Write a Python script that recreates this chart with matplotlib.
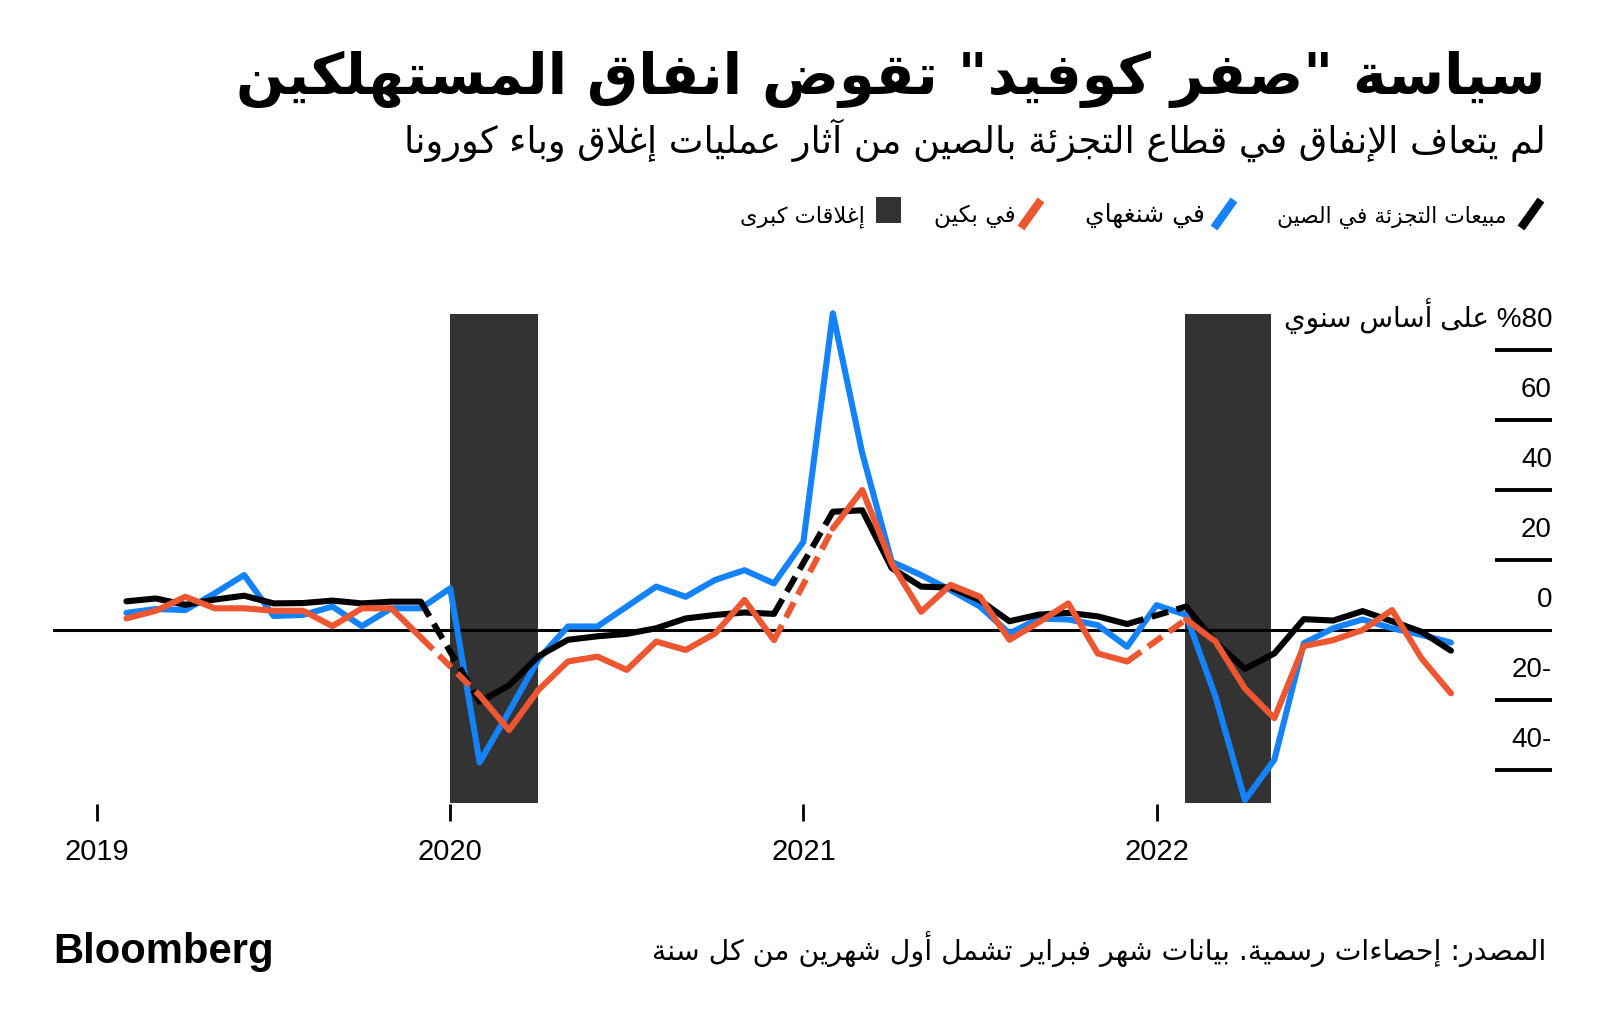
import re
import numpy as np
import pandas as pd
import matplotlib
matplotlib.use('Agg')
import matplotlib.pyplot as plt
from matplotlib.lines import Line2D
from matplotlib.patches import Rectangle

# ---------------- data ----------------
dates = pd.date_range('2019-01-01', '2022-11-01', freq='MS')
china = [np.nan, 8.2, 9.0, 7.2, 8.7, 9.8, 7.6, 7.7, 8.4, 7.6, 8.1, 8.1,
         np.nan, -20.5, -15.8, -7.5, -2.8, -1.8, -1.1, 0.5, 3.3, 4.3, 5.0, 4.6,
         np.nan, 33.8, 34.2, 17.7, 12.4, 12.1, 8.5, 2.5, 4.4, 4.9, 3.9, 1.7,
         np.nan, 6.7, -3.5, -11.1, -6.7, 3.1, 2.7, 5.4, 2.5, -0.5, -5.9]
shanghai = [np.nan, 4.9, 6.0, 5.7, 10.5, 15.7, 4.0, 4.3, 6.7, 1.1, 6.2, 6.2,
            11.9, -37.8, -23.3, -8.3, 1.0, 1.0, 6.7, 12.4, 9.5, 14.3, 17.1, 13.3,
            25.2, 90.5, 50.5, 19.5, 15.7, 11.4, 6.7, -1.0, 3.3, 3.0, 1.4, -4.8,
            7.1, 4.3, -19.0, -48.6, -37.1, -3.8, 0.5, 3.0, 0.5, -1.4, -3.6]
beijing = [np.nan, 3.3, 5.5, 9.5, 6.2, 6.2, 5.5, 5.5, 1.1, 6.2, 6.2, -2.1,
           np.nan, -18.7, -28.6, -17.1, -9.0, -7.6, -11.4, -3.3, -5.7, -1.0, 8.6, -2.9,
           np.nan, 29.0, 40.0, 19.0, 5.2, 12.9, 9.5, -2.8, 2.2, 7.6, -6.7, -9.0,
           np.nan, 3.0, -3.3, -16.7, -25.2, -4.6, -2.9, 0.0, 5.7, -8.1, -18.1]
lockdown_start = [2020.0, 2022.08]
lockdown_end = [2020.25, 2022.325]
lockdown_low, lockdown_high = -49.5, 90.3
year_ticks = [2019, 2020, 2021, 2022]
year_labels = ['2019', '2020', '2021', '2022']
y_values = [80, 60, 40, 20, 0, -20, -40]
y_labels = ['%80 على أساس سنوي', '60', '40', '20', '0', '20-', '40-']

title = 'سياسة "صفر كوفيد" تقوض انفاق المستهلكين'
subtitle = 'لم يتعاف الإنفاق في قطاع التجزئة بالصين من آثار عمليات إغلاق وباء كورونا'
legend_labels = ['مبيعات التجزئة في الصين', 'في شنغهاي', 'في بكين', 'إغلاقات كبرى']
source = 'المصدر: إحصاءات رسمية. بيانات شهر فبراير تشمل أول شهرين من كل سنة'

BLACK = '#000000'
BLUE = '#1482fa'
ORANGE = '#ec5732'
BOX = '#333333'

# ---------------- minimal Arabic shaping for display ----------------
_FORMS = {
    'ء': (0xFE80, 0), 'آ': (0xFE81, 1), 'أ': (0xFE83, 1), 'ؤ': (0xFE85, 1),
    'إ': (0xFE87, 1), 'ئ': (0xFE89, 2), 'ا': (0xFE8D, 1), 'ب': (0xFE8F, 2),
    'ة': (0xFE93, 1), 'ت': (0xFE95, 2), 'ث': (0xFE99, 2), 'ج': (0xFE9D, 2),
    'ح': (0xFEA1, 2), 'خ': (0xFEA5, 2), 'د': (0xFEA9, 1), 'ذ': (0xFEAB, 1),
    'ر': (0xFEAD, 1), 'ز': (0xFEAF, 1), 'س': (0xFEB1, 2), 'ش': (0xFEB5, 2),
    'ص': (0xFEB9, 2), 'ض': (0xFEBD, 2), 'ط': (0xFEC1, 2), 'ظ': (0xFEC5, 2),
    'ع': (0xFEC9, 2), 'غ': (0xFECD, 2), 'ف': (0xFED1, 2), 'ق': (0xFED5, 2),
    'ك': (0xFED9, 2), 'ل': (0xFEDD, 2), 'م': (0xFEE1, 2), 'ن': (0xFEE5, 2),
    'ه': (0xFEE9, 2), 'و': (0xFEED, 1), 'ى': (0xFEEF, 1), 'ي': (0xFEF1, 2),
}
_LAMALEF = {'آ': 0xFEF5, 'أ': 0xFEF7, 'إ': 0xFEF9, 'ا': 0xFEFB}


def _shape(s):
    units = []
    i = 0
    while i < len(s):
        c = s[i]
        if c == 'ل' and i + 1 < len(s) and s[i + 1] in _LAMALEF:
            units.append(('LA', s[i + 1]))
            i += 2
        else:
            units.append(('C', c))
            i += 1

    def jt(u):
        if u[0] == 'LA':
            return 1
        return _FORMS.get(u[1], (None, -1))[1]

    out = []
    for k, u in enumerate(units):
        t = jt(u)
        if t < 0:
            out.append(u[1])
            continue
        if t == 0:
            out.append(chr(_FORMS[u[1]][0]))
            continue
        pt = jt(units[k - 1]) if k > 0 else -1
        nt = jt(units[k + 1]) if k + 1 < len(units) else -1
        jp = pt == 2
        jn = (t == 2) and nt in (1, 2)
        if u[0] == 'LA':
            out.append(chr(_LAMALEF[u[1]] + (1 if jp else 0)))
            continue
        base = _FORMS[u[1]][0]
        off = 3 if (jp and jn) else 1 if jp else 2 if jn else 0
        out.append(chr(base + off))
    return ''.join(out)


def rtl(s):
    """Shape and reorder Arabic text for left-to-right glyph drawing."""
    if not any(c in _FORMS for c in s):
        return s
    shaped = _shape(s)
    tokens = re.findall(r'%?[0-9A-Za-z]+%?|.', shaped, flags=re.S)
    return ''.join(reversed(tokens))


# ---------------- figure ----------------
W, H = 1600, 1023
fig = plt.figure(figsize=(W / 100, H / 100), dpi=100)
fig.patch.set_facecolor('white')

AX_L, AX_R, AX_T, AX_B = 53, 1552, 300, 821
ax = fig.add_axes([AX_L / W, 1 - AX_B / H, (AX_R - AX_L) / W, (AX_B - AX_T) / H])
px_per_year = 353.2
x0 = 2019 - (97 - AX_L) / px_per_year
x1 = 2019 + (AX_R - 97) / px_per_year
ax.set_xlim(x0, x1)
ax.set_ylim((630 - AX_B) / 3.5, (630 - AX_T) / 3.5)
for sp in ax.spines.values():
    sp.set_visible(False)
ax.set_facecolor('none')

x = (dates.year + (dates.month - 1) / 12.0).to_numpy()

# lockdown boxes
for s, e in zip(lockdown_start, lockdown_end):
    ax.add_patch(Rectangle((s, lockdown_low), e - s, lockdown_high - lockdown_low,
                           facecolor=BOX, edgecolor='none', zorder=1))

# zero line
ax.axhline(0, color='black', lw=2.2, zorder=2)

LW = 4.4
for vals, col, z in [(shanghai, BLUE, 3), (china, BLACK, 4), (beijing, ORANGE, 5)]:
    v = np.array(vals, dtype=float)
    ax.plot(x, v, color=col, lw=LW, solid_joinstyle='round',
            solid_capstyle='round', zorder=z)
    for i in np.where(np.isnan(v))[0]:
        if 0 < i < len(v) - 1 and not np.isnan(v[i - 1]) and not np.isnan(v[i + 1]):
            ax.plot(x[[i - 1, i + 1]], v[[i - 1, i + 1]], color=col, lw=LW,
                    dashes=(2.8, 1.4), zorder=z)

# y axis: short lines on the right, labels above them
ytr = ax.get_yaxis_transform()
ax.hlines([v for v in y_values if v != 0], 0.962, 1.0, transform=ytr,
          color='black', lw=2.8, zorder=2)
for v, lab in zip(y_values, y_labels):
    ax.text(1.0, v + 6.6, rtl(lab), transform=ytr, ha='right', va='baseline',
            fontsize=20, family=['Liberation Sans', 'DejaVu Sans'], color='black')
ax.set_yticks([])

# x axis ticks
ax.set_xticks(year_ticks)
ax.set_xticklabels(year_labels, fontsize=21, family='Liberation Sans')
ax.tick_params(axis='x', direction='in', length=12.2, width=2.0, color='black',
               pad=12, labelcolor='black')

# ---------------- texts ----------------
renderer = fig.canvas.get_renderer()


def ftext(xpx, ypx, s, width=None, **kw):
    t = fig.text(xpx / W, 1 - ypx / H, s, **kw)
    if width is not None:
        w = t.get_window_extent(renderer=renderer).width
        t.set_fontsize(t.get_fontsize() * width / w)
    return t


AR = ['DejaVu Sans']
ftext(1546, 94, rtl(title), width=1309, ha='right', va='baseline',
      fontsize=40, fontweight='bold', family=AR, color='black')
ftext(1546, 153, rtl(subtitle), width=1148, ha='right', va='baseline',
      fontsize=24, family=AR, color='black')

# legend (right-to-left)
leg_text_right = [1507, 1205, 1016, 865]
leg_text_width = [231, 120, 82, 125]
for lab, xr, wd in zip(legend_labels, leg_text_right, leg_text_width):
    ftext(xr, 222, rtl(lab), width=wd, ha='right', va='baseline',
          fontsize=16, family=AR, color='black')
for xc, col in [(1531, BLACK), (1224, BLUE), (1031, ORANGE)]:
    fig.add_artist(Line2D([(xc - 10) / W, (xc + 10) / W], [1 - 228 / H, 1 - 200 / H],
                          transform=fig.transFigure, color=col, lw=6,
                          solid_capstyle='butt'))
fig.add_artist(Rectangle((876 / W, 1 - 223 / H), 25 / W, 26 / H,
                         transform=fig.transFigure, facecolor=BOX, edgecolor='none'))

# footer
ftext(1546, 960, rtl(source), width=893, ha='right', va='baseline',
      fontsize=18, family=AR, color='black')
ftext(53, 963, 'Bloomberg', width=220, ha='left', va='baseline',
      fontsize=30, fontweight='bold', family='Liberation Sans', color='black')

fig.savefig('out.png', dpi=100, facecolor='white')
